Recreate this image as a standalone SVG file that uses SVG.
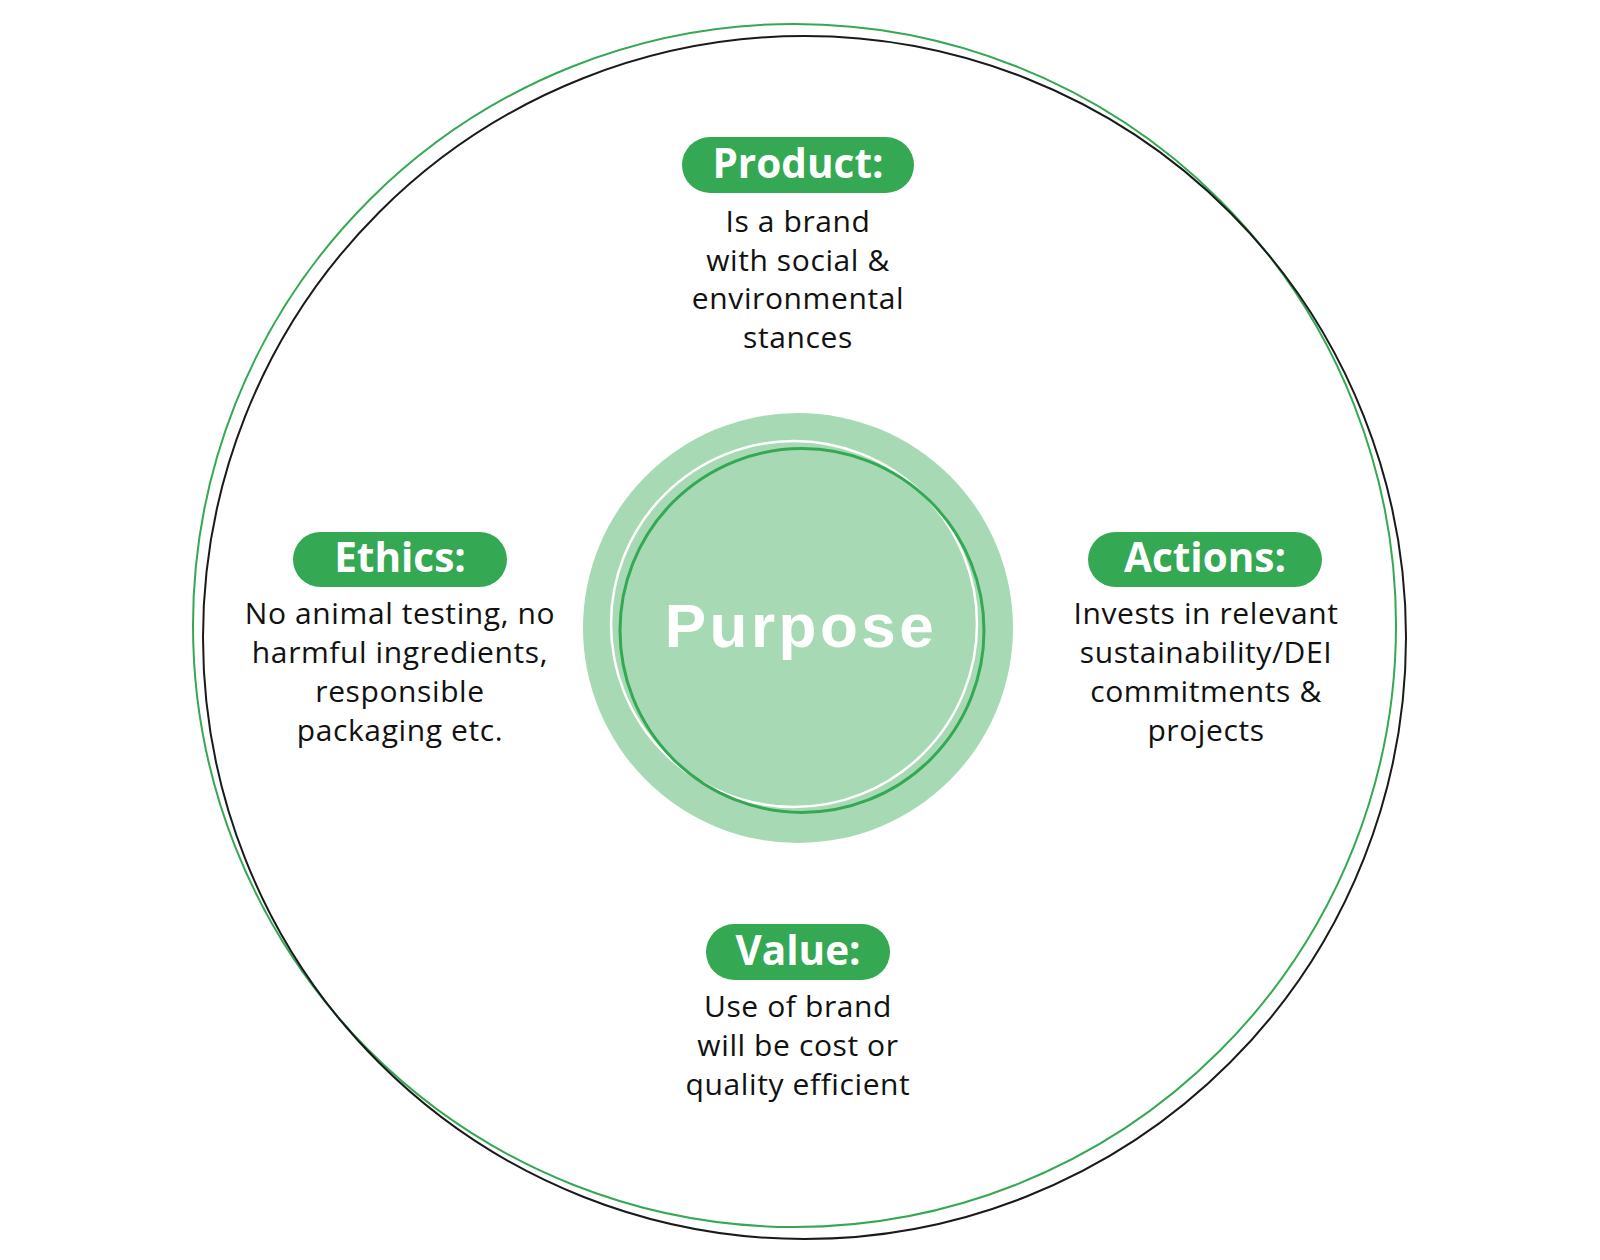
<svg xmlns="http://www.w3.org/2000/svg" width="1600" height="1260" viewBox="0 0 1600 1260">
<style>
.pill{fill:#34a853}
.lbl{font-family:"Open Sans","Liberation Sans",sans-serif;font-weight:700;font-size:40.5px;fill:#fff;text-anchor:middle}
.body{font-family:"Open Sans","Liberation Sans",sans-serif;font-size:30px;letter-spacing:0.6px;fill:#111;text-anchor:middle}
</style>
<rect width="1600" height="1260" fill="#fff"/>
<g id="outer-rings" fill="none" stroke-width="2">
<circle cx="794.5" cy="625.5" r="601.5" stroke="#34a853"/>
<circle cx="804.5" cy="637.5" r="601.5" stroke="#1a1a1a"/>
</g>
<g id="connectors"></g>
<g id="purpose">
<circle cx="798" cy="628" r="215" fill="#a8d9b5"/>
<circle cx="794" cy="624" r="183" fill="none" stroke="#fff" stroke-width="2.5"/>
<circle cx="802" cy="630.5" r="182" fill="none" stroke="#34a853" stroke-width="3"/>
<text x="801" y="647" font-family="'Liberation Sans',Arial,sans-serif" font-weight="700" font-size="62" letter-spacing="3.5" fill="#fff" text-anchor="middle">Purpose</text>
</g>
<g id="product">
<rect class="pill" x="682" y="137" width="232" height="56" rx="28"/>
<text class="lbl" x="798" y="178">Product:</text>
<text class="body" x="798" y="232">Is a brand</text>
<text class="body" x="798" y="270.5">with social &amp;</text>
<text class="body" x="798" y="309">environmental</text>
<text class="body" x="798" y="347.5">stances</text>
</g>
<g id="ethics">
<rect class="pill" x="293" y="532" width="214" height="55" rx="27.5"/>
<text class="lbl" x="400" y="572">Ethics:</text>
<text class="body" x="400" y="624">No animal testing, no</text>
<text class="body" x="400" y="663">harmful ingredients,</text>
<text class="body" x="400" y="702">responsible</text>
<text class="body" x="400" y="741">packaging etc.</text>
</g>
<g id="actions">
<rect class="pill" x="1088" y="532" width="234" height="55" rx="27.5"/>
<text class="lbl" x="1205" y="572">Actions:</text>
<text class="body" x="1206" y="624">Invests in relevant</text>
<text class="body" x="1206" y="663">sustainability/DEI</text>
<text class="body" x="1206" y="702">commitments &amp;</text>
<text class="body" x="1206" y="741">projects</text>
</g>
<g id="value">
<rect class="pill" x="706" y="924" width="184" height="56" rx="28"/>
<text class="lbl" x="798" y="965">Value:</text>
<text class="body" x="798" y="1017">Use of brand</text>
<text class="body" x="798" y="1056">will be cost or</text>
<text class="body" x="798" y="1095">quality efficient</text>
</g>
</svg>
